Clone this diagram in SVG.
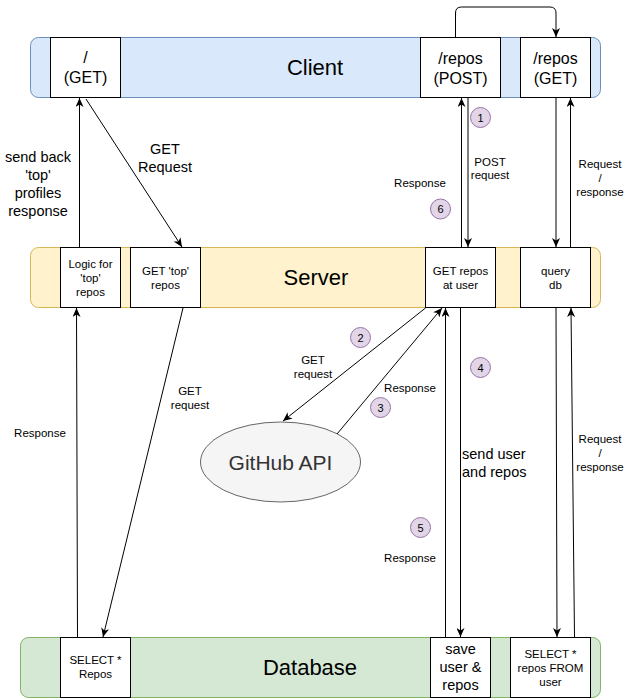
<svg xmlns="http://www.w3.org/2000/svg" width="626" height="698" viewBox="0 0 626 698">
<style>
text{font-family:"Liberation Sans",Arial,sans-serif;fill:#000;text-anchor:middle}
.node{fill:#fff;stroke:#000;stroke-width:1}
.big{font-size:22px}
.mid{font-size:16px}
.m15{font-size:14.5px}
.sm{font-size:11.5px}
.conn path{fill:none;stroke:#000;stroke-width:1}
.badge circle{fill:#e1d5e7;stroke:#9673a6;stroke-width:1}
.badge text{font-size:11px}
</style>
<defs>
<marker id="arr" markerUnits="userSpaceOnUse" markerWidth="10" markerHeight="8" refX="9" refY="4" orient="auto">
<path d="M0,0 L9,4 L0,8 L2.5,4 Z" fill="#000"/>
</marker>
</defs>
<g id="lane-client">
<rect x="30.5" y="37.5" width="570" height="60" rx="8" fill="#dae8fc" stroke="#6c8ebf"/>
<text class="big" x="315" y="75">Client</text>
</g>
<g id="lane-server">
<rect x="30.5" y="247.5" width="570" height="60" rx="8" fill="#fff2cc" stroke="#d6b656"/>
<text class="big" x="316" y="285">Server</text>
</g>
<g id="lane-database">
<rect x="20.5" y="637.5" width="580" height="60" rx="8" fill="#d5e8d4" stroke="#82b366"/>
<text class="big" x="310" y="675">Database</text>
</g>
<g id="node-get-root">
<rect class="node" x="50.5" y="37.5" width="70" height="60"/>
<text class="mid" x="85.5" y="63">/</text>
<text class="mid" x="85.5" y="83">(GET)</text>
</g>
<g id="node-repos-post">
<rect class="node" x="420.5" y="37.5" width="80" height="60"/>
<text class="mid" x="460.5" y="64">/repos</text>
<text class="mid" x="460.5" y="84">(POST)</text>
</g>
<g id="node-repos-get">
<rect class="node" x="520.5" y="37.5" width="70" height="60"/>
<text class="mid" x="555.5" y="64">/repos</text>
<text class="mid" x="555.5" y="84">(GET)</text>
</g>
<g id="node-logic-top">
<rect class="node" x="60.5" y="247.5" width="60" height="60"/>
<text class="sm" x="90.5" y="267.5">Logic for</text>
<text class="sm" x="90.5" y="281.5">'top'</text>
<text class="sm" x="90.5" y="295.5">repos</text>
</g>
<g id="node-get-top">
<rect class="node" x="130.5" y="247.5" width="70" height="60"/>
<text class="sm" x="165.5" y="275">GET 'top'</text>
<text class="sm" x="165.5" y="288.5">repos</text>
</g>
<g id="node-get-repos-user">
<rect class="node" x="425.5" y="247.5" width="70" height="60"/>
<text class="sm" x="460.5" y="275">GET repos</text>
<text class="sm" x="460.5" y="288.5">at user</text>
</g>
<g id="node-query-db">
<rect class="node" x="520.5" y="247.5" width="70" height="60"/>
<text class="sm" x="555.5" y="275">query</text>
<text class="sm" x="555.5" y="288.5">db</text>
</g>
<g id="node-github">
<ellipse cx="280.5" cy="462" rx="80" ry="40" fill="#f5f5f5" stroke="#666666"/>
<text x="280.5" y="469.5" style="font-size:21px;fill:#333333">GitHub API</text>
</g>
<g id="node-select-repos">
<rect class="node" x="60.5" y="637.5" width="70" height="60"/>
<text class="sm" x="95.5" y="664">SELECT *</text>
<text class="sm" x="95.5" y="678">Repos</text>
</g>
<g id="node-save-user">
<rect class="node" x="430.5" y="637.5" width="60" height="60"/>
<text class="m15" x="460.5" y="653.5">save</text>
<text class="m15" x="460.5" y="671.5">user &amp;</text>
<text class="m15" x="460.5" y="689.5">repos</text>
</g>
<g id="node-select-user">
<rect class="node" x="510.5" y="637.5" width="80" height="60"/>
<text class="sm" x="550.5" y="658">SELECT *</text>
<text class="sm" x="550.5" y="672">repos FROM</text>
<text class="sm" x="550.5" y="686">user</text>
</g>
<g id="connectors" class="conn">
<path d="M79.5,247 L79.5,98" marker-end="url(#arr)"/>
<path d="M86,99 L182,247" marker-end="url(#arr)"/>
<path d="M183,308 L103,637" marker-end="url(#arr)"/>
<path d="M77.5,637 L76.5,308" marker-end="url(#arr)"/>
<path d="M455.5,37 L455.5,13 Q455.5,7 461.5,7 L550,7 Q556,7 556,13 L556,37" marker-end="url(#arr)"/>
<path d="M468,98 L468,247" marker-end="url(#arr)"/>
<path d="M461.5,247 L461.5,98" marker-end="url(#arr)"/>
<path d="M556,98 L556,247" marker-end="url(#arr)"/>
<path d="M570.5,247 L570.5,98" marker-end="url(#arr)"/>
<path d="M425.5,308 L283,421" marker-end="url(#arr)"/>
<path d="M337,434 L442,308" marker-end="url(#arr)"/>
<path d="M445.5,637 L445.5,308" marker-end="url(#arr)"/>
<path d="M460.5,308 L460.5,637" marker-end="url(#arr)"/>
<path d="M556,308 L557,637" marker-end="url(#arr)"/>
<path d="M574.5,637 L571,308" marker-end="url(#arr)"/>
</g>
<g id="labels">
<text class="m15" x="38" y="162">send back</text>
<text class="m15" x="38" y="180">'top'</text>
<text class="m15" x="38" y="198">profiles</text>
<text class="m15" x="38" y="216">response</text>
<text class="m15" x="165" y="154">GET</text>
<text class="m15" x="165" y="172">Request</text>
<text class="sm" x="190" y="395">GET</text>
<text class="sm" x="190" y="408.5">request</text>
<text class="sm" x="40" y="437">Response</text>
<text class="sm" x="490" y="165.5">POST</text>
<text class="sm" x="490" y="178.5">request</text>
<text class="sm" x="420" y="187">Response</text>
<text class="sm" x="600" y="167.5">Request</text>
<text class="sm" x="600" y="181.5">/</text>
<text class="sm" x="600" y="196">response</text>
<text class="sm" x="313" y="364">GET</text>
<text class="sm" x="313" y="378">request</text>
<text class="sm" x="410" y="392">Response</text>
<text class="m15" x="462" y="459" style="text-anchor:start">send user</text>
<text class="m15" x="462" y="477" style="text-anchor:start">and repos</text>
<text class="sm" x="410" y="562">Response</text>
<text class="sm" x="600" y="443">Request</text>
<text class="sm" x="600" y="457">/</text>
<text class="sm" x="600" y="471">response</text>
</g>
<g id="badges" class="badge">
<circle cx="480.5" cy="117.5" r="10"/><text x="480.5" y="121.5">1</text>
<circle cx="360.5" cy="337.5" r="10"/><text x="360.5" y="341.5">2</text>
<circle cx="380.5" cy="407.5" r="10"/><text x="380.5" y="411.5">3</text>
<circle cx="480.5" cy="367.5" r="10"/><text x="480.5" y="371.5">4</text>
<circle cx="420.5" cy="527.5" r="10"/><text x="420.5" y="531.5">5</text>
<circle cx="440.5" cy="209" r="10"/><text x="440.5" y="213">6</text>
</g>
</svg>
